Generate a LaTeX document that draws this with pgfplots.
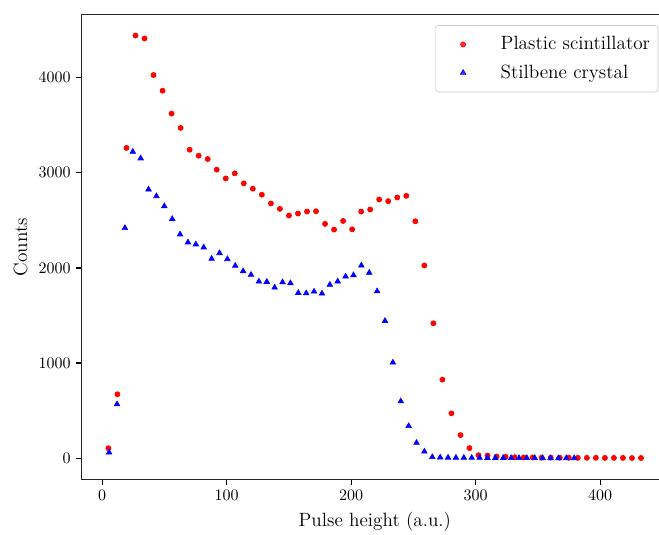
\documentclass[border=0pt]{standalone}
\usepackage{pgfplots}
\pgfplotsset{compat=1.18}
\pgfplotsset{mylegend/.style={legend image code/.code={\path[draw=none,fill=none] (0pt,-2pt) rectangle (34pt,2pt);\draw[mark repeat=2,mark phase=2,##1] plot coordinates {(0pt,0pt)(14.5pt,0pt)(34pt,0pt)};}}}
\pgfplotstableread{
x y
5.00 105
12.25 672
19.50 3262
26.75 4443
34.00 4412
41.25 4028
48.50 3863
55.75 3623
63.00 3472
70.25 3243
77.50 3180
84.75 3145
92.00 3033
99.25 2941
106.50 2994
113.75 2889
121.00 2833
128.25 2770
135.50 2678
142.75 2621
150.00 2551
157.25 2572
164.50 2593
171.75 2596
179.00 2463
186.25 2403
193.50 2494
200.75 2406
208.00 2593
215.25 2614
222.50 2720
229.75 2702
237.00 2741
244.25 2758
251.50 2491
258.75 2026
266.00 1418
273.25 826
280.50 471
287.75 243
295.00 106
302.25 32
309.50 28
316.75 18
324.00 14
331.25 10
338.50 8
345.75 8
353.00 6
360.25 6
367.50 5
374.75 5
382.00 4
389.25 4
396.50 4
403.75 3
411.00 3
418.25 3
425.50 2
432.75 2
}\plastic
\pgfplotstableread{
x y
5.60 60
11.93 567
18.26 2420
24.59 3222
30.92 3152
37.25 2825
43.58 2755
49.91 2649
56.24 2515
62.57 2353
68.90 2269
75.23 2248
81.56 2216
87.89 2097
94.22 2156
100.55 2093
106.88 2023
113.21 1966
119.54 1928
125.87 1858
132.20 1854
138.53 1794
144.86 1850
151.19 1840
157.52 1738
163.85 1734
170.18 1752
176.51 1731
182.84 1823
189.17 1858
195.50 1910
201.83 1924
208.16 2026
214.49 1949
220.82 1755
227.15 1443
233.48 1006
239.81 598
246.14 338
252.47 162
258.80 70
265.13 12
271.46 8
277.79 6
284.12 5
290.45 5
296.78 4
303.11 4
309.44 3
315.77 3
322.10 3
328.43 2
334.76 2
341.09 2
347.42 2
353.75 1
360.08 1
366.41 1
372.74 1
379.07 1
}\stilbene
\begin{document}
\begin{tikzpicture}
\begin{axis}[
  name=ax,
  scale only axis,
  width=366.4pt, height=290.4pt,
  xmin=-16.4, xmax=454.4, ymin=-222, ymax=4662,
  xtick={0,100,200,300,400},
  ytick={0,1000,2000,3000,4000},
  yticklabels={0,1000,2000,3000,4000},
  xtick pos=left, ytick pos=left,
  tick align=outside,
  major tick length=3.5pt,
  every tick/.style={black, line width=0.8pt},
  axis line style={line width=0.8pt, black!85},
  xlabel={Pulse height (a.u.)},
  ylabel={Counts},
  label style={font=\large},
  legend cell align=left,
  legend style={at={(1,1)}, anchor=north east, xshift=-6pt, yshift=-6.5pt,
    draw=black!20, rounded corners=2pt, fill=white, fill opacity=0.8, text opacity=1,
    font=\large, inner xsep=3pt, inner ysep=5pt, row sep=3.8pt,
    /tikz/every odd column/.style={column sep=2pt}},
]
\addplot[only marks, mark=*, mark size=1.6pt, color=red, mark options={draw=red, fill=red}, mylegend] table[x=x,y=y] {\plastic};
\addlegendentry{Plastic scintillator}
\addplot[only marks, mark=triangle*, mark size=2pt, color=blue, mark options={draw=blue, fill=blue}, mylegend] table[x=x,y=y] {\stilbene};
\addlegendentry{Stilbene crystal}
\end{axis}
\pgfresetboundingbox
\path ([xshift=-51.1pt,yshift=-34.2pt]ax.south west) rectangle ([xshift=-5.6pt,yshift=9.2pt]ax.north east);
\end{tikzpicture}
\end{document}
